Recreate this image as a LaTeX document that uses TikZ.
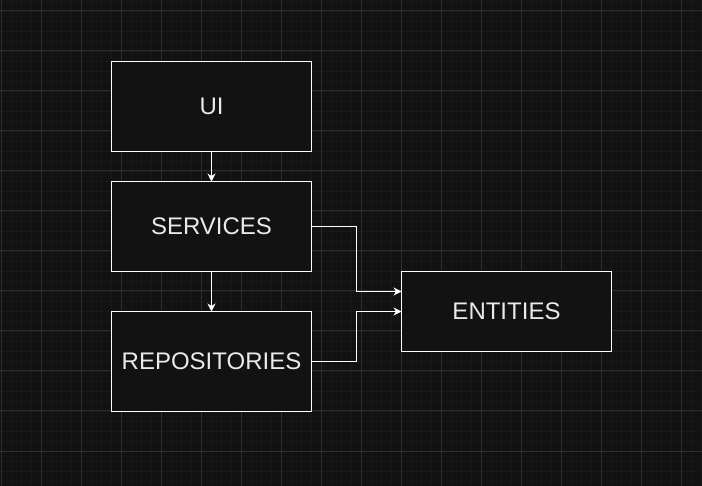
\documentclass[tikz,border=0pt]{standalone}
\usepackage{fontspec}
\setmainfont{Liberation Sans}
\usepackage{tikz}
\usetikzlibrary{arrows.meta,calc,positioning}
\definecolor{canvas}{HTML}{121212}
\definecolor{gridminor}{HTML}{181818}
\definecolor{gridmajor}{HTML}{2E2E2E}
\definecolor{labeltext}{HTML}{EAEAEA}
\tikzset{
	layer/.style={
		draw=white, fill=canvas, line width=1pt,
		minimum width=200, minimum height=90,
		inner sep=0pt, outer sep=0pt,
		text=labeltext, font=\fontsize{24}{28}\selectfont},
	conn/.style={draw=white, line width=1pt,
		-{Stealth[length=8pt,width=8pt,inset=2.5pt]}}
}

\begin{document}
\begin{tikzpicture}[x=1pt,y=-1pt]
	% canvas and grid
	\useasboundingbox[fill=canvas] (0,0) rectangle (702,486);
	\draw[gridminor, line width=0.6pt]
		foreach \x in {1,11,...,701} {(\x,0) -- (\x,486)}
		foreach \y in {1,11,...,481} {(0,\y) -- (702,\y)};
	\draw[gridmajor, line width=1pt]
		foreach \x in {1,41,...,681} {(\x,0) -- (\x,486)}
		foreach \y in {11,51,...,451} {(0,\y) -- (702,\y)};
	% layers
	\node[layer] (ui) at (211.5,106.5) {UI};
	\node[layer] (services) at (211.5,226.5) {SERVICES};
	\node[layer, minimum height=100] (repos) at (211.5,361.5) {REPOSITORIES};
	\node[layer, minimum width=210, minimum height=80] (entities) at (506.5,311.5) {ENTITIES};
	% dependencies
	\draw[conn] (ui) -- (services);
	\draw[conn] (services) -- (repos);
	\draw[conn] (services.east) -- ++(45,0) |- ([yshift=20pt]entities.west);
	\draw[conn] (repos.east) -- ++(45,0) |- (entities.west);
\end{tikzpicture}
\end{document}
